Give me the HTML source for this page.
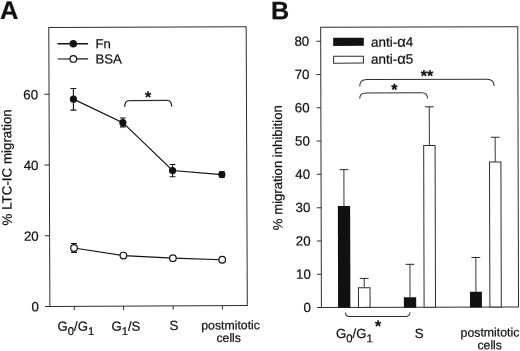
<!DOCTYPE html>
<html lang="en">
<head>
<meta charset="utf-8">
<title>LTC-IC migration figure</title>
<style>
html,body{margin:0;padding:0;background:#fff;}
body{width:520px;height:351px;overflow:hidden;}
svg{display:block;filter:grayscale(1);font-family:'Liberation Sans', Arial, sans-serif;fill:#111111;}
text{stroke:#111111;stroke-width:0.22px;}
</style>
</head>
<body>
<svg width="520" height="351" viewBox="0 0 520 351">
<rect x="0" y="0" width="520" height="351" fill="#ffffff"/>
<g transform="rotate(-0.23 49.9 306.4)">
<rect x="49.9" y="27.60" width="197.4" height="278.8" fill="none" stroke="#2e2e2e" stroke-width="1"/>
<line x1="45.10" y1="306.40" x2="49.90" y2="306.40" stroke="#2e2e2e" stroke-width="1.0"/>
<text x="39.00" y="311.30" font-size="13.3" text-anchor="end" font-weight="normal">0</text>
<line x1="45.10" y1="235.70" x2="49.90" y2="235.70" stroke="#2e2e2e" stroke-width="1.0"/>
<text x="39.00" y="240.60" font-size="13.3" text-anchor="end" font-weight="normal">20</text>
<line x1="45.10" y1="165.00" x2="49.90" y2="165.00" stroke="#2e2e2e" stroke-width="1.0"/>
<text x="39.00" y="169.90" font-size="13.3" text-anchor="end" font-weight="normal">40</text>
<line x1="45.10" y1="94.30" x2="49.90" y2="94.30" stroke="#2e2e2e" stroke-width="1.0"/>
<text x="39.00" y="99.20" font-size="13.3" text-anchor="end" font-weight="normal">60</text>
<line x1="74.25" y1="306.40" x2="74.25" y2="310.20" stroke="#2e2e2e" stroke-width="1.0"/>
<line x1="123.60" y1="306.40" x2="123.60" y2="310.20" stroke="#2e2e2e" stroke-width="1.0"/>
<line x1="173.10" y1="306.40" x2="173.10" y2="310.20" stroke="#2e2e2e" stroke-width="1.0"/>
<line x1="222.40" y1="306.40" x2="222.40" y2="310.20" stroke="#2e2e2e" stroke-width="1.0"/>
<text x="75.85" y="330.90" font-size="13.2" text-anchor="middle" font-weight="normal">G<tspan font-size="11.3" dy="4.3">0</tspan><tspan dy="-4.3">/G</tspan><tspan font-size="11.3" dy="4.3">1</tspan></text>
<text x="125.80" y="331.10" font-size="13.2" text-anchor="middle" font-weight="normal">G<tspan font-size="11.3" dy="4.3">1</tspan><tspan dy="-4.3">/S</tspan></text>
<text x="173.90" y="330.60" font-size="13.3" text-anchor="middle" font-weight="normal">S</text>
<text x="230.51" y="330.13" font-size="12.3" text-anchor="middle" font-weight="normal">postmitotic</text>
<text x="228.56" y="342.72" font-size="12.3" text-anchor="middle" font-weight="normal">cells</text>
<text transform="translate(11.96,167.15) rotate(-90)" font-size="13.35" text-anchor="middle">% LTC-IC migration</text>
<text x="1.05" y="18.90" font-size="25.5" text-anchor="start" font-weight="bold">A</text>
<line x1="58.65" y1="43.83" x2="89.15" y2="43.83" stroke="#111111" stroke-width="1.5"/>
<circle cx="74.35" cy="43.83" r="3.75" fill="#111111"/>
<text x="96.44" y="48.38" font-size="13.2" text-anchor="start" font-weight="normal">Fn</text>
<line x1="58.59" y1="59.03" x2="89.15" y2="59.03" stroke="#111111" stroke-width="1.1"/>
<circle cx="74.35" cy="59.03" r="3.3" fill="#fff" stroke="#111111" stroke-width="1.2"/>
<text x="96.37" y="63.78" font-size="13.2" text-anchor="start" font-weight="normal">BSA</text>
<polyline points="74.25,99.25 123.60,122.93 173.10,171.01 222.40,175.25" fill="none" stroke="#111111" stroke-width="1.2"/>
<line x1="74.25" y1="110.21" x2="74.25" y2="88.64" stroke="#111111" stroke-width="1.1"/>
<line x1="71.35" y1="110.21" x2="77.15" y2="110.21" stroke="#111111" stroke-width="1.1"/>
<line x1="71.35" y1="88.64" x2="77.15" y2="88.64" stroke="#111111" stroke-width="1.1"/>
<line x1="123.60" y1="127.18" x2="123.60" y2="118.34" stroke="#111111" stroke-width="1.1"/>
<line x1="120.70" y1="127.18" x2="126.50" y2="127.18" stroke="#111111" stroke-width="1.1"/>
<line x1="120.70" y1="118.34" x2="126.50" y2="118.34" stroke="#111111" stroke-width="1.1"/>
<line x1="173.10" y1="177.20" x2="173.10" y2="165.00" stroke="#111111" stroke-width="1.1"/>
<line x1="170.20" y1="177.20" x2="176.00" y2="177.20" stroke="#111111" stroke-width="1.1"/>
<line x1="170.20" y1="165.00" x2="176.00" y2="165.00" stroke="#111111" stroke-width="1.1"/>
<line x1="222.40" y1="177.90" x2="222.40" y2="172.60" stroke="#111111" stroke-width="1.1"/>
<line x1="219.50" y1="177.90" x2="225.30" y2="177.90" stroke="#111111" stroke-width="1.1"/>
<line x1="219.50" y1="172.60" x2="225.30" y2="172.60" stroke="#111111" stroke-width="1.1"/>
<circle cx="74.25" cy="99.25" r="3.6" fill="#111111"/>
<circle cx="123.60" cy="122.93" r="3.6" fill="#111111"/>
<circle cx="173.10" cy="171.01" r="3.6" fill="#111111"/>
<circle cx="222.40" cy="175.25" r="3.6" fill="#111111"/>
<polyline points="74.25,248.07 123.60,255.85 173.10,258.68 222.40,260.44" fill="none" stroke="#111111" stroke-width="1.2"/>
<line x1="74.25" y1="252.49" x2="74.25" y2="243.65" stroke="#111111" stroke-width="1.1"/>
<line x1="71.35" y1="252.49" x2="77.15" y2="252.49" stroke="#111111" stroke-width="1.1"/>
<line x1="71.35" y1="243.65" x2="77.15" y2="243.65" stroke="#111111" stroke-width="1.1"/>
<circle cx="74.25" cy="248.07" r="3.3" fill="#fff" stroke="#111111" stroke-width="1.2"/>
<circle cx="123.60" cy="255.85" r="3.3" fill="#fff" stroke="#111111" stroke-width="1.2"/>
<circle cx="173.10" cy="258.68" r="3.3" fill="#fff" stroke="#111111" stroke-width="1.2"/>
<circle cx="222.40" cy="260.44" r="3.3" fill="#fff" stroke="#111111" stroke-width="1.2"/>
<path d="M125.53,107.20 Q125.53,100.90 130.03,100.90 L167.93,100.90 Q172.43,100.90 172.43,107.20" fill="none" stroke="#2e2e2e" stroke-width="1.2"/>
<text x="148.92" y="102.80" font-size="16" text-anchor="middle" font-weight="bold">*</text>
</g>
<g transform="rotate(-0.15 321.4 307.5)">
<rect x="321.4" y="27.30" width="197.1" height="280.2" fill="none" stroke="#2e2e2e" stroke-width="1"/>
<line x1="317.10" y1="307.50" x2="321.40" y2="307.50" stroke="#2e2e2e" stroke-width="1.0"/>
<text x="311.00" y="311.90" font-size="13.3" text-anchor="end" font-weight="normal">0</text>
<line x1="317.10" y1="274.21" x2="321.40" y2="274.21" stroke="#2e2e2e" stroke-width="1.0"/>
<text x="310.86" y="278.61" font-size="13.3" text-anchor="end" font-weight="normal">10</text>
<line x1="317.10" y1="240.93" x2="321.40" y2="240.93" stroke="#2e2e2e" stroke-width="1.0"/>
<text x="310.73" y="245.33" font-size="13.3" text-anchor="end" font-weight="normal">20</text>
<line x1="317.10" y1="207.64" x2="321.40" y2="207.64" stroke="#2e2e2e" stroke-width="1.0"/>
<text x="310.59" y="212.04" font-size="13.3" text-anchor="end" font-weight="normal">30</text>
<line x1="317.10" y1="174.35" x2="321.40" y2="174.35" stroke="#2e2e2e" stroke-width="1.0"/>
<text x="310.45" y="178.75" font-size="13.3" text-anchor="end" font-weight="normal">40</text>
<line x1="317.10" y1="141.06" x2="321.40" y2="141.06" stroke="#2e2e2e" stroke-width="1.0"/>
<text x="310.31" y="145.46" font-size="13.3" text-anchor="end" font-weight="normal">50</text>
<line x1="317.10" y1="107.77" x2="321.40" y2="107.77" stroke="#2e2e2e" stroke-width="1.0"/>
<text x="310.18" y="112.17" font-size="13.3" text-anchor="end" font-weight="normal">60</text>
<line x1="317.10" y1="74.49" x2="321.40" y2="74.49" stroke="#2e2e2e" stroke-width="1.0"/>
<text x="310.04" y="78.89" font-size="13.3" text-anchor="end" font-weight="normal">70</text>
<line x1="317.10" y1="41.20" x2="321.40" y2="41.20" stroke="#2e2e2e" stroke-width="1.0"/>
<text x="309.90" y="45.60" font-size="13.3" text-anchor="end" font-weight="normal">80</text>
<text transform="translate(282.37,167.60) rotate(-90)" font-size="13.15" text-anchor="middle">% migration inhibition</text>
<text x="271.75" y="19.07" font-size="25.2" text-anchor="start" font-weight="bold">B</text>
<rect x="333.91" y="37.83" width="30.6" height="8.1" fill="#111111"/>
<rect x="334.26" y="56.33" width="29.8" height="6.9" fill="#fff" stroke="#2e2e2e" stroke-width="1"/>
<text x="371.68" y="46.83" font-size="13.5" text-anchor="start" font-weight="normal">anti-<tspan font-size="14.8">α</tspan>4</text>
<text x="371.64" y="63.83" font-size="13.5" text-anchor="start" font-weight="normal">anti-<tspan font-size="14.8">α</tspan>5</text>
<line x1="344.25" y1="205.97" x2="344.25" y2="169.69" stroke="#111111" stroke-width="0.85"/>
<line x1="339.85" y1="169.69" x2="348.65" y2="169.69" stroke="#111111" stroke-width="0.9"/>
<rect x="338.10" y="205.97" width="12.30" height="101.93" fill="#111111"/>
<line x1="364.30" y1="287.86" x2="364.30" y2="278.54" stroke="#111111" stroke-width="0.85"/>
<line x1="359.90" y1="278.54" x2="368.70" y2="278.54" stroke="#111111" stroke-width="0.9"/>
<rect x="358.50" y="287.86" width="11.60" height="19.64" fill="#fff" stroke="#2e2e2e" stroke-width="1"/>
<line x1="410.05" y1="297.51" x2="410.05" y2="264.56" stroke="#111111" stroke-width="0.85"/>
<line x1="405.65" y1="264.56" x2="414.45" y2="264.56" stroke="#111111" stroke-width="0.9"/>
<rect x="403.90" y="297.51" width="12.30" height="10.39" fill="#111111"/>
<line x1="429.80" y1="145.72" x2="429.80" y2="107.11" stroke="#111111" stroke-width="0.85"/>
<line x1="425.40" y1="107.11" x2="434.20" y2="107.11" stroke="#111111" stroke-width="0.9"/>
<rect x="424.10" y="145.72" width="11.40" height="161.78" fill="#fff" stroke="#2e2e2e" stroke-width="1"/>
<line x1="475.95" y1="292.19" x2="475.95" y2="257.90" stroke="#111111" stroke-width="0.85"/>
<line x1="471.55" y1="257.90" x2="480.35" y2="257.90" stroke="#111111" stroke-width="0.9"/>
<rect x="470.00" y="292.19" width="11.90" height="15.71" fill="#111111"/>
<line x1="495.60" y1="162.37" x2="495.60" y2="137.73" stroke="#111111" stroke-width="0.85"/>
<line x1="491.20" y1="137.73" x2="500.00" y2="137.73" stroke="#111111" stroke-width="0.9"/>
<rect x="489.90" y="162.37" width="11.40" height="145.13" fill="#fff" stroke="#2e2e2e" stroke-width="1"/>
<path d="M360.30,86.50 Q360.30,79.70 367.30,79.70 L487.60,79.70 Q494.60,79.70 494.60,86.50" fill="none" stroke="#2e2e2e" stroke-width="1.0"/>
<path d="M360.26,98.80 Q360.26,93.10 366.26,93.10 L422.06,93.10 Q428.06,93.10 428.06,98.80" fill="none" stroke="#2e2e2e" stroke-width="1.0"/>
<text x="427.59" y="81.58" font-size="16" text-anchor="middle" font-weight="bold">**</text>
<text x="394.86" y="95.09" font-size="16" text-anchor="middle" font-weight="bold">*</text>
<path d="M345.48,312.46 Q345.48,316.66 349.98,316.66 L405.48,316.66 Q409.98,316.66 409.98,312.46" fill="none" stroke="#2e2e2e" stroke-width="1.0"/>
<text x="377.94" y="331.75" font-size="16" text-anchor="middle" font-weight="bold">*</text>
<text x="354.32" y="337.99" font-size="13.2" text-anchor="middle" font-weight="normal">G<tspan font-size="11.3" dy="4.3">0</tspan><tspan dy="-4.3">/G</tspan><tspan font-size="11.3" dy="4.3">1</tspan></text>
<text x="419.12" y="338.16" font-size="13.3" text-anchor="middle" font-weight="normal">S</text>
<text x="489.92" y="337.04" font-size="12.3" text-anchor="middle" font-weight="normal">postmitotic</text>
<text x="489.59" y="349.64" font-size="12.3" text-anchor="middle" font-weight="normal">cells</text>
</g>
</svg>
</body>
</html>
